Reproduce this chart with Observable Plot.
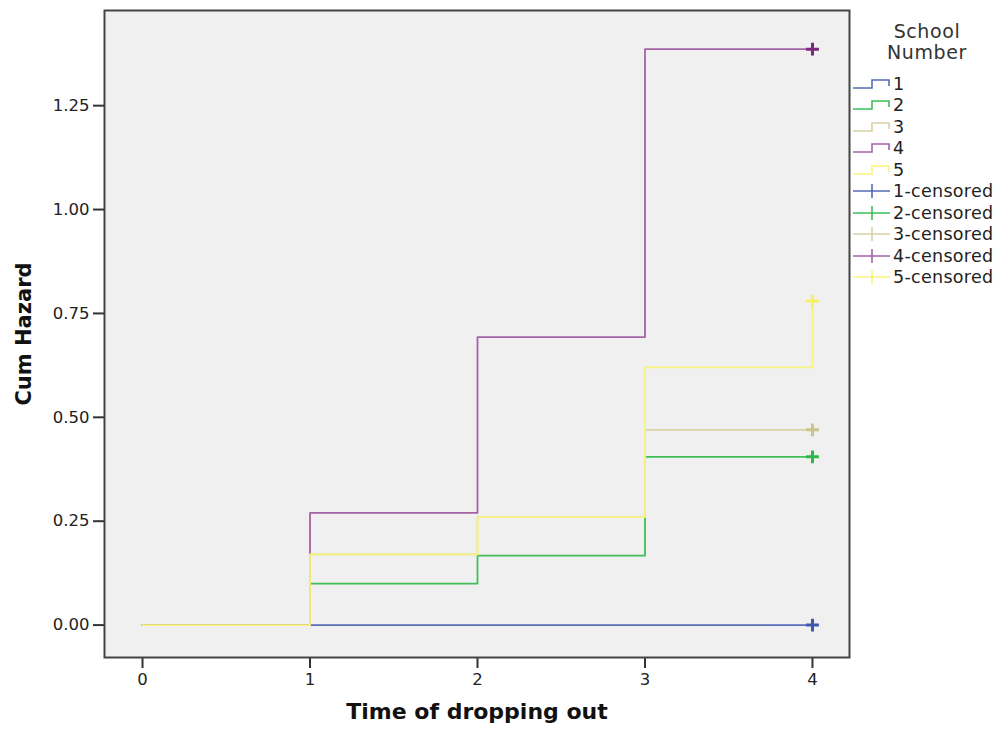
<!DOCTYPE html>
<html>
<head>
<meta charset="utf-8">
<script src="https://cdn.jsdelivr.net/npm/d3@7"></script>
<script src="https://cdn.jsdelivr.net/npm/@observablehq/plot@0.6"></script>
<style>
  html, body { margin: 0; padding: 0; background: #ffffff; }
  #wrap { position: relative; width: 1000px; height: 731px; font-family: "DejaVu Sans", sans-serif; }
  #legend { position: absolute; left: 852px; top: 21px; width: 148px; color: #222; }
  #legend .title { text-align: center; font-size: 19px; letter-spacing: 0.6px; line-height: 21px; color: #333; width: 150px; }
  #legend .item { display: flex; align-items: center; height: 21.5px; font-size: 17.5px; letter-spacing: 0.3px; }
  #legend .item svg { flex: none; margin-right: 1px; }
</style>
</head>
<body>
<div id="wrap"><div id="chart"></div><div id="legend"></div></div>
<script>
// ---- data ----
const times = [0, 1, 2, 3, 4];
const schools = ["1", "2", "3", "4", "5"];
const lineColors = ["#566cb6", "#3fbe55", "#d6d1a6", "#a463a5", "#f8f47e"];
const markColors = ["#3e58ac", "#2eb848", "#cbc48a", "#7c287d", "#f6f064"];
const hazard1 = [0, 0, 0, 0, 0];
const hazard2 = [0, 0.10, 0.167, 0.405, 0.405];
const hazard3 = [0, 0.17, 0.26, 0.47, 0.47];
const hazard4 = [0, 0.27, 0.693, 1.386, 1.386];
const hazard5 = [0, 0.17, 0.26, 0.62, 0.78];
const censorTime = [4, 4, 4, 4, 4];
const xTicks = [0, 1, 2, 3, 4];
const yTicks = [0, 0.25, 0.5, 0.75, 1.0, 1.25];
const xTitle = "Time of dropping out";
const yTitle = "Cum Hazard";
const legendTitle = ["School", "Number"];

// ---- build tables ----
const hazards = [hazard1, hazard2, hazard3, hazard4, hazard5];
const rows = [];
schools.forEach((s, i) => times.forEach((t, j) => rows.push({school: s, time: t, hazard: hazards[i][j]})));
const censored = schools.map((s, i) => ({school: s, time: censorTime[i], hazard: hazards[i][hazards[i].length - 1], mark: markColors[i]}));

const chart = Plot.plot({
  width: 1000,
  height: 731,
  marginTop: 10,
  marginBottom: 74,
  marginLeft: 104,
  marginRight: 151,
  style: {fontFamily: "DejaVu Sans, sans-serif", color: "#222", background: "#ffffff"},
  x: {domain: [-0.227, 4.221]},
  y: {domain: [-0.078, 1.479]},
  color: {domain: schools, range: lineColors},
  marks: [
    Plot.frame({fill: "#f0f0f0"}),
    Plot.axisX({ticks: xTicks, tickSize: 11, tickPadding: 5, fontSize: 16.5, strokeWidth: 2, stroke: "#333", label: null, tickFormat: d => String(d)}),
    Plot.axisY({ticks: yTicks, tickSize: 11, tickPadding: 4, fontSize: 16.5, strokeWidth: 2, stroke: "#333", label: null, tickFormat: d3.format(".2f")}),
    Plot.line(rows, {x: "time", y: "hazard", z: "school", stroke: "school", curve: "step-after", strokeWidth: 1.8}),
    Plot.dot(censored, {x: "time", y: "hazard", stroke: d => d.mark, symbol: "plus", r: 4.2, strokeWidth: 3}),
    Plot.frame({stroke: "#444", strokeWidth: 2}),
    Plot.text([xTitle], {text: d => d, frameAnchor: "bottom", dy: 61, fontSize: 22, fontWeight: "bold", fill: "#111"}),
    Plot.text([yTitle], {text: d => d, frameAnchor: "left", textAnchor: "middle", dx: -80, dy: 0, rotate: -90, fontSize: 21, fontWeight: "bold", fill: "#111"})
  ]
});
document.getElementById("chart").appendChild(chart);

// ---- legend ----
const legend = d3.select("#legend");
legend.append("div").attr("class", "title").html(legendTitle.join("<br>"));
legend.append("div").style("height", "10px");
schools.forEach((s, i) => {
  const item = legend.append("div").attr("class", "item");
  const svg = item.append("svg").attr("width", 40).attr("height", 16);
  svg.append("path").attr("d", "M1,12 H20 V4 H37 V10").attr("fill", "none").attr("stroke", lineColors[i]).attr("stroke-width", 1.6);
  item.append("span").text(s);
});
schools.forEach((s, i) => {
  const item = legend.append("div").attr("class", "item");
  const svg = item.append("svg").attr("width", 40).attr("height", 16);
  svg.append("path").attr("d", "M1,8 H38 M20,1 V15").attr("fill", "none").attr("stroke", lineColors[i]).attr("stroke-width", 1.6);
  item.append("span").text(s + "-censored");
});
</script>
</body>
</html>
